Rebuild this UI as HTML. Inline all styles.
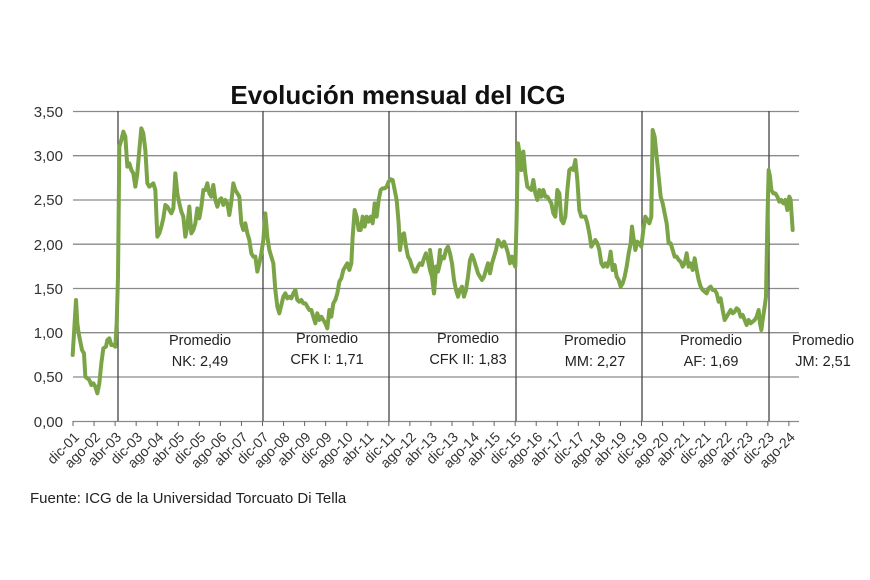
<!DOCTYPE html>
<html><head><meta charset="utf-8"><style>
html,body{margin:0;padding:0;background:#fff;}
svg{display:block;font-family:"Liberation Sans",sans-serif;}
</style></head><body>
<svg width="870" height="580" viewBox="0 0 870 580" xmlns="http://www.w3.org/2000/svg">
<rect width="870" height="580" fill="#fff"/>
<text x="398" y="104" text-anchor="middle" font-size="26" font-weight="bold" fill="#111">Evolución mensual del ICG</text>
<g stroke="#8a8a8a" stroke-width="1.3">
<line x1="73" y1="111.5" x2="799" y2="111.5"/>
<line x1="73" y1="155.7" x2="799" y2="155.7"/>
<line x1="73" y1="200" x2="799" y2="200"/>
<line x1="73" y1="244.2" x2="799" y2="244.2"/>
<line x1="73" y1="288.5" x2="799" y2="288.5"/>
<line x1="73" y1="332.7" x2="799" y2="332.7"/>
<line x1="73" y1="377" x2="799" y2="377"/>
<line x1="73" y1="421.5" x2="799" y2="421.5"/>
</g>
<g stroke="#444" stroke-width="1.3">
<line x1="118" y1="111" x2="118" y2="421"/>
<line x1="263" y1="111" x2="263" y2="421"/>
<line x1="389" y1="111" x2="389" y2="421"/>
<line x1="516" y1="111" x2="516" y2="421"/>
<line x1="642" y1="111" x2="642" y2="421"/>
<line x1="769" y1="111" x2="769" y2="421"/>
</g>
<g font-size="15" fill="#333" text-anchor="end">
<text x="63" y="117">3,50</text><text x="63" y="161">3,00</text><text x="63" y="205">2,50</text>
<text x="63" y="250">2,00</text><text x="63" y="294">1,50</text><text x="63" y="338">1,00</text>
<text x="63" y="382">0,50</text><text x="63" y="427">0,00</text>
</g>
<g stroke="#666" stroke-width="1">
<line x1="73" y1="421" x2="73" y2="426"/><line x1="94.06" y1="421" x2="94.06" y2="426"/><line x1="115.11" y1="421" x2="115.11" y2="426"/><line x1="136.17" y1="421" x2="136.17" y2="426"/><line x1="157.22" y1="421" x2="157.22" y2="426"/><line x1="178.28" y1="421" x2="178.28" y2="426"/><line x1="199.34" y1="421" x2="199.34" y2="426"/><line x1="220.39" y1="421" x2="220.39" y2="426"/><line x1="241.45" y1="421" x2="241.45" y2="426"/><line x1="262.5" y1="421" x2="262.5" y2="426"/><line x1="283.56" y1="421" x2="283.56" y2="426"/><line x1="304.62" y1="421" x2="304.62" y2="426"/><line x1="325.67" y1="421" x2="325.67" y2="426"/><line x1="346.73" y1="421" x2="346.73" y2="426"/><line x1="367.78" y1="421" x2="367.78" y2="426"/><line x1="388.84" y1="421" x2="388.84" y2="426"/><line x1="409.9" y1="421" x2="409.9" y2="426"/><line x1="430.95" y1="421" x2="430.95" y2="426"/><line x1="452.01" y1="421" x2="452.01" y2="426"/><line x1="473.06" y1="421" x2="473.06" y2="426"/><line x1="494.12" y1="421" x2="494.12" y2="426"/><line x1="515.18" y1="421" x2="515.18" y2="426"/><line x1="536.23" y1="421" x2="536.23" y2="426"/><line x1="557.29" y1="421" x2="557.29" y2="426"/><line x1="578.34" y1="421" x2="578.34" y2="426"/><line x1="599.4" y1="421" x2="599.4" y2="426"/><line x1="620.46" y1="421" x2="620.46" y2="426"/><line x1="641.51" y1="421" x2="641.51" y2="426"/><line x1="662.57" y1="421" x2="662.57" y2="426"/><line x1="683.62" y1="421" x2="683.62" y2="426"/><line x1="704.68" y1="421" x2="704.68" y2="426"/><line x1="725.74" y1="421" x2="725.74" y2="426"/><line x1="746.79" y1="421" x2="746.79" y2="426"/><line x1="767.85" y1="421" x2="767.85" y2="426"/><line x1="788.9" y1="421" x2="788.9" y2="426"/>
</g>
<g font-size="14" fill="#333" text-anchor="end">
<text transform="translate(80,438) rotate(-45)">dic-01</text>
<text transform="translate(101.06,438) rotate(-45)">ago-02</text>
<text transform="translate(122.11,438) rotate(-45)">abr-03</text>
<text transform="translate(143.17,438) rotate(-45)">dic-03</text>
<text transform="translate(164.22,438) rotate(-45)">ago-04</text>
<text transform="translate(185.28,438) rotate(-45)">abr-05</text>
<text transform="translate(206.34,438) rotate(-45)">dic-05</text>
<text transform="translate(227.39,438) rotate(-45)">ago-06</text>
<text transform="translate(248.45,438) rotate(-45)">abr-07</text>
<text transform="translate(269.5,438) rotate(-45)">dic-07</text>
<text transform="translate(290.56,438) rotate(-45)">ago-08</text>
<text transform="translate(311.62,438) rotate(-45)">abr-09</text>
<text transform="translate(332.67,438) rotate(-45)">dic-09</text>
<text transform="translate(353.73,438) rotate(-45)">ago-10</text>
<text transform="translate(374.78,438) rotate(-45)">abr-11</text>
<text transform="translate(395.84,438) rotate(-45)">dic-11</text>
<text transform="translate(416.9,438) rotate(-45)">ago-12</text>
<text transform="translate(437.95,438) rotate(-45)">abr-13</text>
<text transform="translate(459.01,438) rotate(-45)">dic-13</text>
<text transform="translate(480.06,438) rotate(-45)">ago-14</text>
<text transform="translate(501.12,438) rotate(-45)">abr-15</text>
<text transform="translate(522.18,438) rotate(-45)">dic-15</text>
<text transform="translate(543.23,438) rotate(-45)">ago-16</text>
<text transform="translate(564.29,438) rotate(-45)">abr-17</text>
<text transform="translate(585.34,438) rotate(-45)">dic-17</text>
<text transform="translate(606.4,438) rotate(-45)">ago-18</text>
<text transform="translate(627.46,438) rotate(-45)">abr-19</text>
<text transform="translate(648.51,438) rotate(-45)">dic-19</text>
<text transform="translate(669.57,438) rotate(-45)">ago-20</text>
<text transform="translate(690.62,438) rotate(-45)">abr-21</text>
<text transform="translate(711.68,438) rotate(-45)">dic-21</text>
<text transform="translate(732.74,438) rotate(-45)">ago-22</text>
<text transform="translate(753.79,438) rotate(-45)">abr-23</text>
<text transform="translate(774.85,438) rotate(-45)">dic-23</text>
<text transform="translate(795.9,438) rotate(-45)">ago-24</text>
</g>
<g font-size="14.5" fill="#222" text-anchor="middle">
<text x="200" y="345">Promedio</text><text x="200" y="366">NK: 2,49</text>
<text x="327" y="343">Promedio</text><text x="327" y="364">CFK I: 1,71</text>
<text x="468" y="343">Promedio</text><text x="468" y="364">CFK II: 1,83</text>
<text x="595" y="345">Promedio</text><text x="595" y="366">MM: 2,27</text>
<text x="711" y="345">Promedio</text><text x="711" y="366">AF: 1,69</text>
<text x="823" y="345">Promedio</text><text x="823" y="366">JM: 2,51</text>
</g>
<text x="30" y="503" font-size="15" fill="#222">Fuente: ICG de la Universidad Torcuato Di Tella</text>
<g fill="none" stroke="#7ba446" stroke-width="12" stroke-linejoin="round" stroke-linecap="round">
<polyline transform="translate(0,90) scale(0.33333)" points="218,795 222,730 228,630 232,700 236,730 240,750 246,780 252,790 256,860 262,865 268,870 274,885 280,880 286,890 292,910 298,880 304,820 310,775 318,770 322,750 328,745 334,765 340,765 346,770 350,700 354,560 358,170 364,150 370,125 376,140 382,230 388,220 394,240 400,250 406,290 412,250 418,180 424,115 430,130 436,180 442,280 448,290 454,285 460,280 466,300 472,440 478,430 484,410 490,385 496,345 502,350 508,360 514,370 520,355 526,250 532,310 538,340 544,365 550,380 556,440 562,410 568,350 574,430 580,420 586,400 592,355 598,385 604,350 610,300 616,300 622,280 628,310 634,320 640,285 646,330 652,350 658,330 664,325 670,345 676,330 682,340 688,375 694,335 700,280 706,300 712,310 718,320 724,400 730,420 736,400 742,430 748,450 754,490 760,500 766,500 772,545 778,520 784,490 790,450 796,370 802,440 808,480 814,500 820,520 826,600 832,650 838,670 844,645 850,620 856,610 862,625 868,620 874,625 880,610 886,600 892,630 898,635 904,630 910,640 916,640 922,650 928,660 934,660 940,680 946,700 952,670 958,690 964,680 970,690 976,700 982,715 988,660 994,680 1000,640 1006,630 1012,610 1018,575 1024,565 1030,540 1036,530 1042,520 1048,540 1054,520 1058,440 1064,360 1070,380 1076,420 1082,420 1088,380 1094,410 1100,380 1106,395 1112,380 1118,400 1124,340 1130,380 1136,330 1142,300 1148,295 1154,295 1160,290 1166,275 1172,268 1178,270 1184,300 1190,330 1196,400 1200,480 1206,435 1212,430 1218,470 1224,500 1230,510 1236,530 1242,545 1248,545 1254,530 1260,520 1266,525 1272,505 1278,490 1284,510 1290,540 1296,560 1302,610 1308,530 1314,540 1320,480"/>
<polyline transform="translate(430,90) scale(0.33333)" points="0,480 6,520 12,610 18,530 24,545 30,520 36,500 42,505 48,480 54,470 60,490 66,520 72,570 78,600 84,620 90,600 96,590 102,620 108,600 114,560 120,510 126,495 132,510 138,530 144,550 150,560 156,570 162,560 168,540 174,520 180,550 186,520 192,500 198,480 204,450 210,460 216,470 222,455 228,470 234,490 240,520 246,500 252,520 256,530 260,380 264,160 270,200 274,240 280,185 286,250 292,290 298,295 304,300 310,270 316,310 322,330 328,300 334,320 340,300 346,320 352,320 358,330 364,340 370,370 376,380 382,300 388,310 394,390 400,400 406,380 412,300 418,240 424,235 430,240 436,210 442,270 448,360 454,380 460,380 466,380 472,400 478,430 484,470 490,460 496,450 502,460 508,480 514,520 520,530 526,520 532,530 538,510 542,485 548,540 554,525 560,560 566,570 572,590 578,580 584,560 590,530 596,490 602,460 606,410 610,440 616,480 622,455 628,460 634,470 640,420 646,380 652,390 658,400 664,380 668,120 674,140 680,200 686,260 692,320 698,340 704,370 710,400 716,460 722,460 728,480 734,500 740,500 746,510 752,515 758,530 764,520 770,490 776,530 782,520 788,540 794,505 800,540 806,570 812,590 818,600 824,605 830,610 836,595 842,590 848,600 854,600 860,610 866,635 872,625 878,660 884,690 890,680 896,670 902,660 908,670 914,665 920,655 926,660 932,680 938,675 944,690 950,705 956,690 962,700 968,695 974,690 980,680 986,660 990,700 994,720 998,690 1004,650 1008,620 1012,400 1016,240 1020,260 1024,300 1030,310 1036,310 1042,320 1048,335 1054,330 1060,340 1066,330 1072,360 1078,320 1082,330 1088,420"/>
</g>
</svg>
</body></html>
